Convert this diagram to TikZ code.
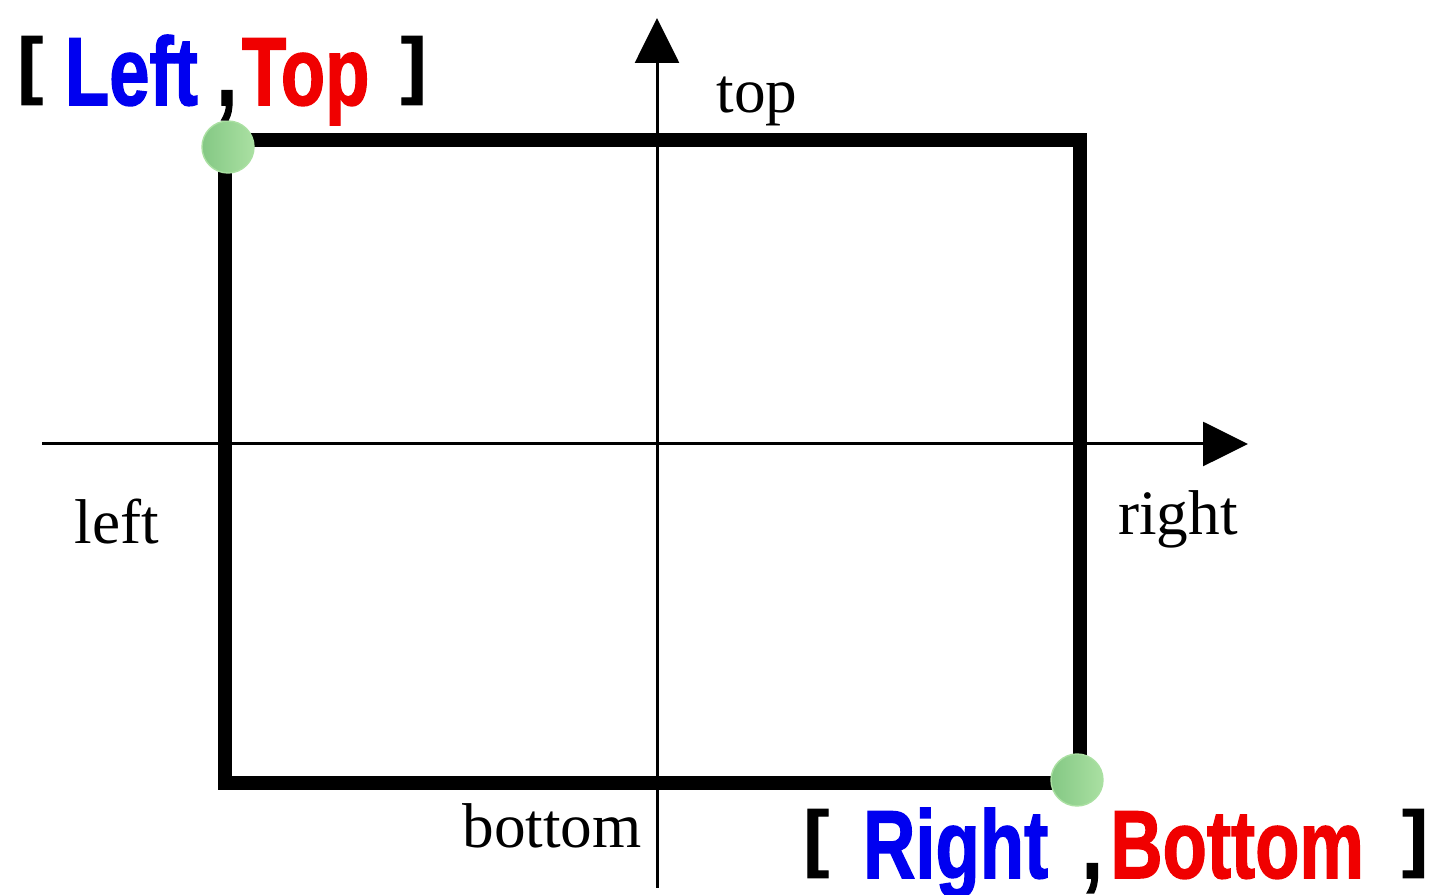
\documentclass[tikz,border=0pt]{standalone}
\usepackage{fontspec}
\setmainfont{Liberation Serif}
\newfontfamily\tagfont{Liberation Sans Bold}[FakeBold=1.6]
\usepackage{xcolor}
\usepackage{graphicx}
\usetikzlibrary{arrows.meta}
\definecolor{dotleft}{RGB}{132,200,132}
\definecolor{dotright}{RGB}{170,224,162}
\definecolor{tagblue}{RGB}{0,0,240}
\definecolor{tagred}{RGB}{240,0,0}
\newcommand{\tagbracket}[1]{\raisebox{0.16em}{\scalebox{1.05}[0.76]{#1}}}

\begin{document}
\begin{tikzpicture}[
  axis/.style={line width=0.85pt, -{Triangle[length=12.8pt, width=12.5pt]}},
  frame/.style={line width=4pt},
  corner/.style={circle, inner sep=0pt, minimum size=14.8pt, draw=dotright, line width=0.4pt, left color=dotleft, right color=dotright},
  lbl/.style={font=\fontsize{18}{20}\selectfont, inner sep=0pt},
  tag/.style={font=\tagfont\fontsize{27.5}{30}\selectfont, inner sep=0pt}
]
\useasboundingbox (0,0) rectangle (14.37,8.95);

\coordinate (lt) at (2.25,7.55);
\coordinate (rb) at (10.80,1.12);
\coordinate (xs) at (0.42,4.51);
\coordinate (xe) at (12.48,4.51);
\coordinate (ys) at (6.57,0.07);
\coordinate (ye) at (6.57,8.77);

\draw[axis] (xs) -- (xe);
\draw[axis] (ys) -- (ye);
\draw[frame] (lt) rectangle (rb);

\node[corner] (ltdot) at (2.28,7.48) {};
\node[corner] (rbdot) at (10.77,1.15) {};

\node[lbl] (top) at (7.57,7.94) {top};
\node[lbl] (left) at (1.17,3.73) {left};
\node[lbl] (right) at (11.78,3.76) {right};
\node[lbl] (bottom) at (5.52,0.69) {bottom};

\node[tag, anchor=base west] (lttag) at (0.17,7.90)
  {\scalebox{0.75}[1]{\tagbracket{[}\hspace{8.3pt}\textcolor{tagblue}{Left}\hspace{7.2pt},\hspace{1.9pt}\textcolor{tagred}{Top}\hspace{12pt}\tagbracket{]}}};
\node[tag, anchor=base west] (rbtag) at (8.03,0.17)
  {\scalebox{0.75}[1]{\tagbracket{[}\hspace{12.9pt}\textcolor{tagblue}{Right}\hspace{12.9pt},\hspace{3pt}\textcolor{tagred}{Bottom}\hspace{14.6pt}\tagbracket{]}}};
\end{tikzpicture}
\end{document}
